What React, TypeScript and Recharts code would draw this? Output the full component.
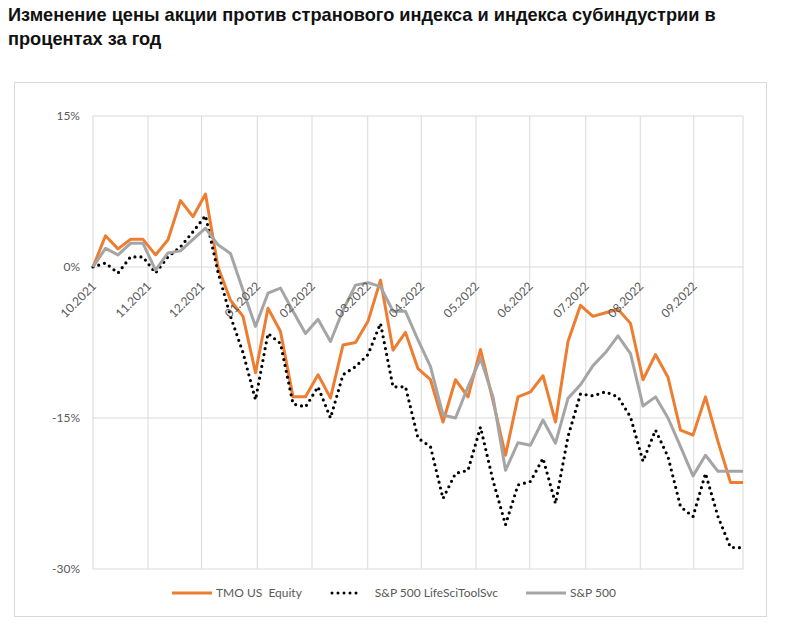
import React from 'react';
import { LineChart, Line, XAxis, YAxis, CartesianGrid } from 'recharts';

const title = 'Изменение цены акции против странового индекса и индекса субиндустрии в процентах за год';

// weekly points, 10.2021 .. 09.2022, % change since start
const tmo = [
  0, 3.1, 1.8, 2.75, 2.75, 1.2, 2.7, 6.6, 5.0, 7.25, 0, -3.3, -4.9, -10.5, -4.1, -6.4, -12.9, -12.9,
  -10.7, -13.0, -7.75, -7.5, -5.4, -1.3, -8.25, -6.5, -10.1, -11.2, -15.4, -11.2, -12.9, -8.2, -13.3,
  -18.7, -12.9, -12.4, -10.8, -15.4, -7.4, -3.8, -4.9, -4.55, -4.2, -5.6, -11.2, -8.7, -10.95, -16.2,
  -16.7, -12.9, -17.35, -21.4, -21.4,
];
const lifeSci = [
  0, 0.4, -0.6, 1.0, 1.0, -0.6, 1.0, 2.0, 3.5, 5.1, -0.5, -4.9, -8.5, -13.2, -6.6, -7.6, -13.6, -13.9,
  -11.9, -15.0, -10.7, -9.9, -8.7, -5.6, -11.9, -11.9, -17.0, -17.85, -23.0, -20.5, -20.2, -15.9, -21.2,
  -25.6, -21.65, -21.3, -19.0, -23.5, -16.85, -12.6, -12.8, -12.4, -12.9, -14.9, -19.3, -16.2, -18.85,
  -23.8, -24.8, -20.5, -24.8, -27.85, -27.9,
];
const spx = [
  0, 1.85, 1.2, 2.35, 2.35, -0.3, 1.4, 1.6, 2.75, 3.85, 2.2, 1.35, -2.3, -5.9, -2.6, -2.1, -4.4, -6.6,
  -5.2, -7.4, -4.3, -1.8, -1.55, -1.95, -4.4, -4.4, -7.25, -9.9, -14.7, -15.0, -11.9, -9.1, -12.9,
  -20.2, -17.45, -17.7, -15.2, -17.5, -13.05, -11.7, -9.8, -8.5, -6.85, -8.6, -13.8, -12.9, -15.0,
  -17.85, -20.75, -18.7, -20.3, -20.3, -20.3,
];

// month boundaries, in week units
const monthTicks = [0, 4.4, 8.68, 13.14, 17.52, 21.98, 26.26, 30.64, 34.94, 39.42, 43.78, 48.06];
const monthLabels = [
  '10.2021', '11.2021', '12.2021', '01.2022', '02.2022', '03.2022',
  '04.2022', '05.2022', '06.2022', '07.2022', '08.2022', '09.2022',
];
const yTicks = [-30, -15, 0, 15];

const series = [
  { key: 'tmo', name: 'TMO US  Equity', color: '#ED7D31', dotted: false },
  { key: 'lifeSci', name: 'S&P 500 LifeSciToolSvc', color: '#000000', dotted: true },
  { key: 'spx', name: 'S&P 500', color: '#A5A5A5', dotted: false },
];

const data = tmo.map((v, i) => ({ week: i, tmo: v, lifeSci: lifeSci[i], spx: spx[i] }));

const CHART_W = 751;
const CHART_H = 533;
const X_AXIS_H = 1;
const MARGIN = { top: 33, right: 23, bottom: 46, left: 18 };
const Y_MIN = -30;
const Y_MAX = 15;
const PLOT_H = CHART_H - MARGIN.top - MARGIN.bottom - X_AXIS_H;
const ZERO_FROM_BOTTOM = (PLOT_H * (0 - Y_MIN)) / (Y_MAX - Y_MIN);

const axisFont = 'Lato, "Open Sans", sans-serif';

function MonthTick(props: any) {
  const { x, y, payload, index } = props;
  const label = monthLabels[index] ?? String(payload?.value);
  const ax = x + 4;
  const ay = y - ZERO_FROM_BOTTOM + 20;
  return (
    <text
      x={ax}
      y={ay}
      transform={`rotate(-45 ${ax} ${ay})`}
      textAnchor="end"
      fill="#595959"
      fontSize={12}
      fontFamily={axisFont}
    >
      {label}
    </text>
  );
}

function LegendRow() {
  return (
    <div
      style={{
        position: 'absolute',
        left: 157,
        top: 502,
        display: 'flex',
        alignItems: 'center',
        fontFamily: axisFont,
        fontSize: 12,
        color: '#595959',
        whiteSpace: 'pre',
      }}
    >
      {series.map((s) => (
        <div key={s.key} style={{ display: 'flex', alignItems: 'center', marginRight: 28 }}>
          <svg width={s.dotted ? 32 : 40} height={10} style={{ marginRight: s.dotted ? 13 : 4 }}>
            <line
              x1={s.dotted ? 2 : 0}
              y1={5}
              x2={s.dotted ? 32 : 40}
              y2={5}
              stroke={s.color}
              strokeWidth={3}
              strokeDasharray={s.dotted ? '0 6' : undefined}
              strokeLinecap={s.dotted ? 'round' : 'butt'}
            />
          </svg>
          <span>{s.name}</span>
        </div>
      ))}
    </div>
  );
}

export default function App() {
  return (
    <div style={{ position: 'relative', width: 769, height: 612 }}>
      <div
        style={{
          position: 'absolute',
          left: 0,
          top: -5,
          width: 760,
          fontFamily: '"Liberation Sans", Arial, sans-serif',
          fontWeight: 'bold',
          fontSize: 18.2,
          lineHeight: '24px',
          color: '#111',
        }}
      >
        {title}
      </div>
      <div
        style={{
          position: 'absolute',
          left: 6,
          top: 74,
          width: 753,
          height: 535,
          boxSizing: 'border-box',
          border: '1px solid #d9d9d9',
          background: '#fff',
        }}
      >
        <LineChart width={CHART_W} height={CHART_H} data={data} margin={MARGIN}>
          <CartesianGrid stroke="#d9d9d9" strokeWidth={1} />
          <XAxis
            dataKey="week"
            type="number"
            domain={[0, 52]}
            ticks={monthTicks}
            interval={0}
            height={X_AXIS_H}
            axisLine={false}
            tickLine={false}
            tickSize={0}
            tickMargin={0}
            tick={MonthTick}
          />
          <YAxis
            type="number"
            domain={[Y_MIN, Y_MAX]}
            ticks={yTicks}
            width={60}
            axisLine={false}
            tickLine={false}
            tickSize={0}
            tickMargin={13}
            tickFormatter={(v) => `${v}%`}
            tick={{ fill: '#595959', fontSize: 12, fontFamily: axisFont }}
          />
          {series.map((s) => (
            <Line
              key={s.key}
              dataKey={s.key}
              name={s.name}
              type="linear"
              stroke={s.color}
              strokeWidth={s.dotted ? 3.2 : 3}
              strokeDasharray={s.dotted ? '0 6' : undefined}
              strokeLinecap={s.dotted ? 'round' : 'butt'}
              strokeLinejoin="round"
              dot={false}
              activeDot={false}
              isAnimationActive={false}
            />
          ))}
        </LineChart>
        <LegendRow />
      </div>
    </div>
  );
}
